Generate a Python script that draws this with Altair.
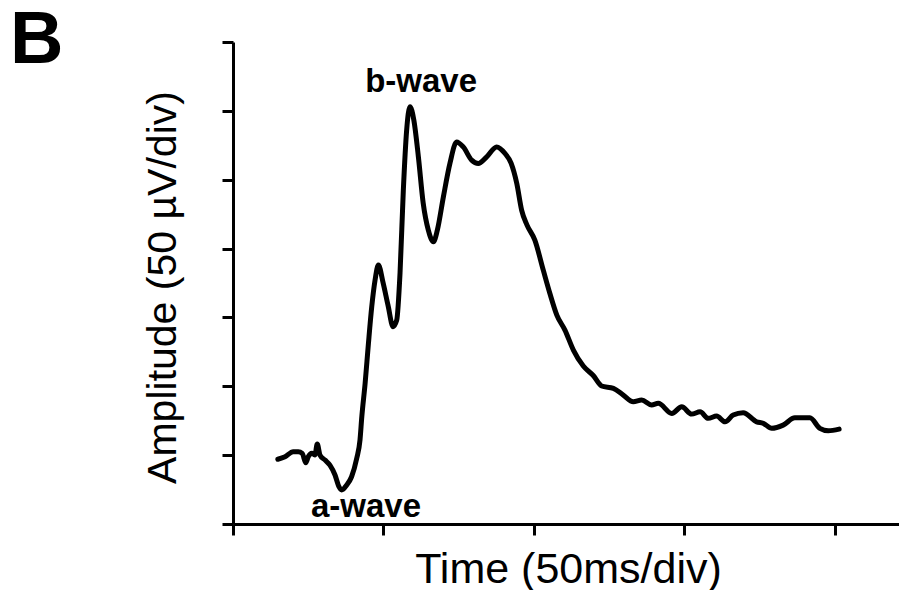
import altair as alt
import pandas as pd

# Trace (time in ms, amplitude in µV)
time_ms = [14.9, 17.3, 20.0, 21.7, 23.0, 24.2, 25.0, 26.2, 27.2, 28.0, 28.9, 30.6, 32.2, 33.9,
           35.2, 36.1, 37.8, 39.4, 41.1, 42.2, 42.8, 43.9, 45.0, 46.1, 47.2, 48.3, 49.9, 51.5,
           53.2, 54.4, 55.5, 56.6, 57.7, 58.8, 60.1, 61.6, 63.2, 64.9, 66.6, 67.9, 69.9, 72.1,
           74.3, 76.5, 79.3, 81.5, 84.3, 87.6, 90.4, 92.4, 94.3, 95.9, 97.7, 100.3, 103.1,
           105.3, 107.6, 110.3, 113.1, 116.4, 119.7, 122.5, 126.4, 129.7, 133.0, 135.8, 139.1,
           141.3, 145.8, 149.1, 152.4, 155.2, 157.9, 160.7, 163.5, 166.2, 169.5, 174.0, 176.2,
           179.0, 182.8, 186.7, 191.7, 195.0, 197.8, 201.4]
amp_uv = [47.0, 48.8, 52.5, 52.5, 51.3, 44.5, 48.8, 51.3, 50.1, 58.1, 50.1, 46.4, 42.8, 35.6,
          27.1, 24.7, 28.3, 34.3, 47.5, 61.0, 77.9, 102.1, 131.1, 157.7, 177.1, 188.0, 174.9,
          158.9, 143.3, 148.0, 182.2, 242.4, 285.9, 303.0, 293.2, 266.6, 233.0, 213.4, 204.9,
          213.4, 237.5, 262.0, 277.4, 273.8, 264.2, 261.8, 266.6, 273.8, 269.0, 262.0, 247.2,
          227.9, 217.0, 206.1, 184.3, 167.4, 151.7, 140.8, 126.3, 114.7, 107.8, 100.2, 98.5,
          93.6, 88.8, 90.0, 86.4, 87.6, 80.3, 85.1, 79.8, 81.5, 76.7, 78.4, 74.2, 79.1, 80.8,
          74.2, 73.1, 69.5, 71.8, 77.1, 77.1, 69.5, 67.7, 68.9]

# Annotations
label_text = ["b-wave", "a-wave"]
label_time = [62.5, 44.2]
label_amp = [313.5, 5.1]

panel_label = ["B"]

x_ticks = [0, 50, 100, 150, 200]
y_ticks = [0, 50, 100, 150, 200, 250, 300, 350]

FONT = "Liberation Sans"

df = pd.DataFrame({"t": time_ms, "a": amp_uv})
lab = pd.DataFrame({"text": label_text, "t": label_time, "a": label_amp})
pan = pd.DataFrame({"text": panel_label})

x_scale = alt.Scale(domain=[0, 221.3], nice=False, zero=False)
y_scale = alt.Scale(domain=[0, 350], nice=False)

line = alt.Chart(df).mark_line(
    color="black", strokeWidth=5, interpolate="monotone", strokeCap="round", strokeJoin="round"
).encode(
    x=alt.X("t:Q", scale=x_scale,
            axis=alt.Axis(title="Time (50ms/div)", values=x_ticks, labels=False,
                          tickSize=11, tickWidth=3, tickColor="black",
                          domainColor="black", domainWidth=3, grid=False,
                          titleFont=FONT, titleFontSize=43, titleFontWeight="normal",
                          titleColor="black", titleBaseline="alphabetic",
                          titleX=335, titleY=58)),
    y=alt.Y("a:Q", scale=y_scale,
            axis=alt.Axis(title="Amplitude (50 µV/div)", values=y_ticks, labels=False,
                          tickSize=11, tickWidth=3, tickColor="black",
                          domainColor="black", domainWidth=3, grid=False,
                          titleFont=FONT, titleFontSize=41, titleFontWeight="normal",
                          titleColor="black", titleBaseline="alphabetic",
                          titleX=-58, titleY=245)),
)

texts = alt.Chart(lab).mark_text(
    font=FONT, fontSize=33, fontWeight="bold", color="black",
    align="center", baseline="alphabetic"
).encode(
    x=alt.X("t:Q", scale=x_scale),
    y=alt.Y("a:Q", scale=y_scale),
    text="text:N",
)

panel = alt.Chart(pan).mark_text(
    font=FONT, fontSize=74, fontWeight="bold", color="black",
    align="left", baseline="alphabetic"
).encode(
    x=alt.value(-223),
    y=alt.value(21),
    text="text:N",
)

chart = alt.layer(line, texts, panel).properties(
    width=666, height=482,
    autosize=alt.AutoSizeParams(type="none"),
    padding={"left": 233, "top": 42, "right": 0, "bottom": 66},
).configure(background="white").configure_view(strokeWidth=0, stroke=None)

chart.save("out.html", embed_options={"renderer": "svg", "actions": False})
